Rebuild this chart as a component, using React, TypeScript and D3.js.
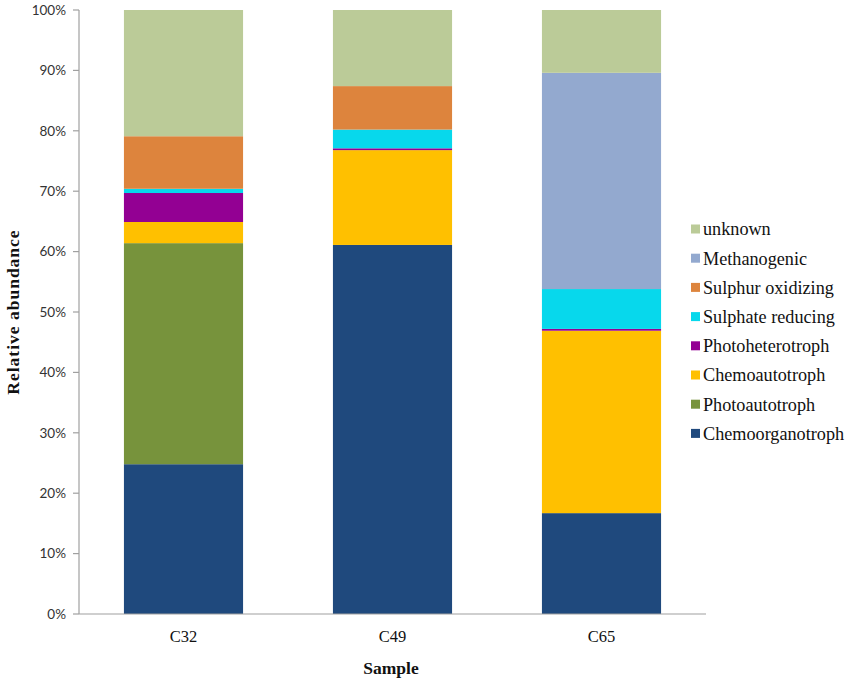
import React from "react";
import * as d3 from "d3";

const samples = ["C32", "C49", "C65"];

// stacking order from bottom to top
const groups = [
  "Chemoorganotroph",
  "Photoautotroph",
  "Chemoautotroph",
  "Photoheterotroph",
  "Sulphate reducing",
  "Sulphur oxidizing",
  "Methanogenic",
  "unknown",
];

const chemoorganotroph = [24.8, 61.1, 16.7];
const photoautotroph = [36.6, 0, 0];
const chemoautotroph = [3.5, 15.7, 30.2];
const photoheterotroph = [4.8, 0.3, 0.3];
const sulphateReducing = [0.7, 3.1, 6.6];
const sulphurOxidizing = [8.7, 7.2, 0];
const methanogenic = [0, 0, 35.8];
const unknown = [20.9, 12.6, 10.4];

const yTicks = [0, 10, 20, 30, 40, 50, 60, 70, 80, 90, 100];

const colors = ["#1f497d", "#77933c", "#ffc000", "#930093", "#07d8ec", "#dd843d", "#93a9cf", "#bbcb98"];

const W = 850;
const H = 684;
const M = { left: 79, right: 706, top: 10, bottom: 614 };
const serif = "'Liberation Serif', 'Times New Roman', serif";

export default function App() {
  const rows = samples.map((s, i) => ({
    sample: s,
    Chemoorganotroph: chemoorganotroph[i],
    Photoautotroph: photoautotroph[i],
    Chemoautotroph: chemoautotroph[i],
    Photoheterotroph: photoheterotroph[i],
    "Sulphate reducing": sulphateReducing[i],
    "Sulphur oxidizing": sulphurOxidizing[i],
    Methanogenic: methanogenic[i],
    unknown: unknown[i],
  }));

  const stack = d3.stack<any>().keys(groups)(rows);

  const x = d3.scaleBand().domain(samples).range([M.left, M.right]).paddingInner(0.43).paddingOuter(0.215);
  const y = d3.scaleLinear().domain([0, 100]).range([M.bottom, M.top]);
  const color = d3.scaleOrdinal<string>().domain(groups).range(colors);

  const legend = groups.slice().reverse();

  return (
    <svg width={W} height={H} style={{ position: "absolute", left: 0, top: 0, background: "#fff" }}>
      {/* bars */}
      {stack.map((layer) => (
        <g key={layer.key} fill={color(layer.key)}>
          {layer.map((d, i) =>
            d[1] - d[0] > 0 ? (
              <rect
                key={i}
                x={x(samples[i])}
                width={x.bandwidth()}
                y={y(d[1])}
                height={y(d[0]) - y(d[1])}
              />
            ) : null
          )}
        </g>
      ))}

      {/* axes */}
      <line x1={M.left} x2={M.left} y1={M.top} y2={M.bottom} stroke="#a0a0a0" strokeWidth={1.2} />
      <line x1={M.left} x2={M.right} y1={M.bottom} y2={M.bottom} stroke="#a0a0a0" strokeWidth={1.2} />
      {yTicks.map((t) => (
        <g key={t}>
          <line x1={M.left - 6} x2={M.left} y1={y(t)} y2={y(t)} stroke="#a0a0a0" strokeWidth={1.2} />
          <text
            x={M.left - 13}
            y={y(t)}
            dy="0.35em"
            textAnchor="end"
            fontFamily="Lato, 'Open Sans', sans-serif"
            fontSize={13.5}
            fill="#333"
          >
            {t}%
          </text>
        </g>
      ))}

      {/* x labels */}
      {samples.map((s) => (
        <text
          key={s}
          x={(x(s) ?? 0) + x.bandwidth() / 2}
          y={642}
          textAnchor="middle"
          fontFamily={serif}
          fontSize={16.5}
          fill="#111"
        >
          {s}
        </text>
      ))}

      <text x={391} y={674} textAnchor="middle" fontFamily={serif} fontWeight="bold" fontSize={17.5} fill="#111">
        Sample
      </text>

      <text
        transform={`translate(19,${y(50)}) rotate(-90)`}
        textAnchor="middle"
        fontFamily={serif}
        fontWeight="bold"
        fontSize={17.5}
        letterSpacing={1}
        fill="#111"
      >
        Relative  abundance
      </text>

      {/* legend */}
      {legend.map((g, i) => {
        const cy = 229 + i * 29.2;
        return (
          <g key={g}>
            <rect x={691} y={cy - 4.5} width={9} height={9} fill={color(g)} />
            <text x={703} y={cy} dy="0.35em" fontFamily={serif} fontSize={18.2} fill="#111">
              {g}
            </text>
          </g>
        );
      })}
    </svg>
  );
}
